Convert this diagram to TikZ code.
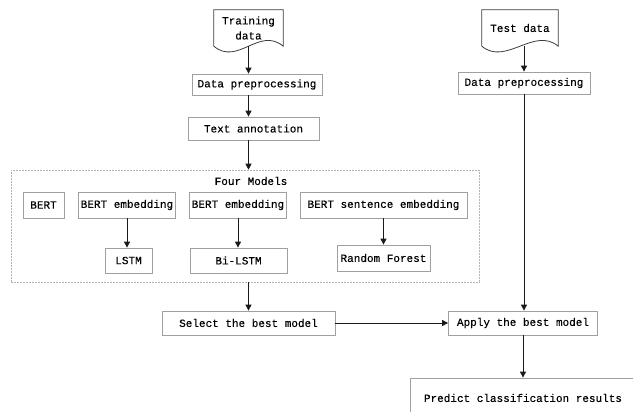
\documentclass[tikz,border=0pt]{standalone}
\usepackage{fontspec}
\setmainfont{Liberation Mono}[FakeBold=0.25]
\usepackage{xcolor}
\usetikzlibrary{arrows.meta, calc}
\definecolor{cEdge}{HTML}{A0A0A0}
\definecolor{cInk}{HTML}{1A1A1A}
\definecolor{cDash}{HTML}{B4B4B4}
\tikzset{
  stage/.style={rectangle, draw=cEdge, line width=0.8pt, fill=white, align=center,
    inner sep=2pt, minimum height=23pt},
  doc/.style={rectangle, draw=none, align=center, inner sep=1pt, minimum height=36pt},
  docline/.style={draw=cInk!85, line width=0.8pt},
  flow/.style={-{Triangle[length=6pt, width=6pt]}, draw=cInk, line width=1pt},
  group/.style={rectangle, draw=cDash, dash pattern=on 2pt off 1pt, line width=0.6pt},
}
\newcommand{\docoutline}[1]{\draw[docline] (#1.north west) -- (#1.north east) -- (#1.south east)
  .. controls ($(#1.south east)+(-24,-20)$) and ($(#1.south west)+(24,20)$) .. (#1.south west) -- cycle;}

\begin{document}
\begin{tikzpicture}[x=1pt, y=-1pt, font=\fontsize{11}{15}\selectfont]
\useasboundingbox (0,0) rectangle (633,412);
\clip (0,0) rectangle (633,412);
% training branch
\node[doc, minimum width=69pt] (train) at (248.5,28) {Training\\ data};
\docoutline{train}
\node[stage, minimum width=130pt, minimum height=21pt] (prepA) at (257,84.5) {Data preprocessing};
\node[stage, minimum width=131pt] (annot) at (253.5,128.5) {Text annotation};
% model group
\node[group, minimum width=468pt, minimum height=112pt] (models) at (245,226) {};
\node (title) at (251,181) {Four Models};
\node[stage, minimum width=41pt, minimum height=26pt] (bert) at (43.5,205) {BERT};
\node[stage, minimum width=96pt, minimum height=26pt] (embA) at (127,205) {BERT embedding};
\node[stage, minimum width=96pt, minimum height=26pt] (embB) at (238,205) {BERT embedding};
\node[stage, minimum width=167pt, minimum height=26pt] (sent) at (383.5,205) {BERT sentence embedding};
\node[stage, minimum width=47pt, minimum height=25pt] (lstm) at (128.5,260.5) {LSTM};
\node[stage, minimum width=97pt, minimum height=25pt] (bilstm) at (238.5,260.5) {Bi-LSTM};
\node[stage, minimum width=93pt, minimum height=26pt] (forest) at (383.5,258) {Random Forest};
\draw[flow] (embA.south) -- (embA.south |- lstm.north);
\draw[flow] (embB.south) -- (embB.south |- bilstm.north);
\draw[flow] (sent.south) -- (sent.south |- forest.north);
% test branch
\node[doc, minimum width=76pt] (test) at (520,28) {Test data};
\docoutline{test}
\node[stage, minimum width=132pt, minimum height=22pt] (prepB) at (524,83) {Data preprocessing};
% selection and prediction
\node[stage, minimum width=173pt, minimum height=24pt] (select) at (248.5,323) {Select the best model};
\node[stage, minimum width=149pt, minimum height=24pt] (apply) at (523,323) {Apply the best model};
\node[stage, minimum width=226pt, minimum height=40pt] (predict) at (523,398) {Predict classification results};
\draw[flow] (train.south) -- (train.south |- prepA.north);
\draw[flow] (train.south |- prepA.south) -- (train.south |- annot.north);
\draw[flow] (train.south |- annot.south) -- (train.south |- models.north);
\draw[flow] (select.north |- models.south) -- (select.north);
\draw[flow] (prepB.north |- test.south) -- (prepB.north);
\draw[flow] (prepB.south) -- (prepB.south |- apply.north);
\draw[flow] (select.east) -- (apply.west);
\draw[flow] (apply.south) -- (apply.south |- predict.north);
\end{tikzpicture}
\end{document}
